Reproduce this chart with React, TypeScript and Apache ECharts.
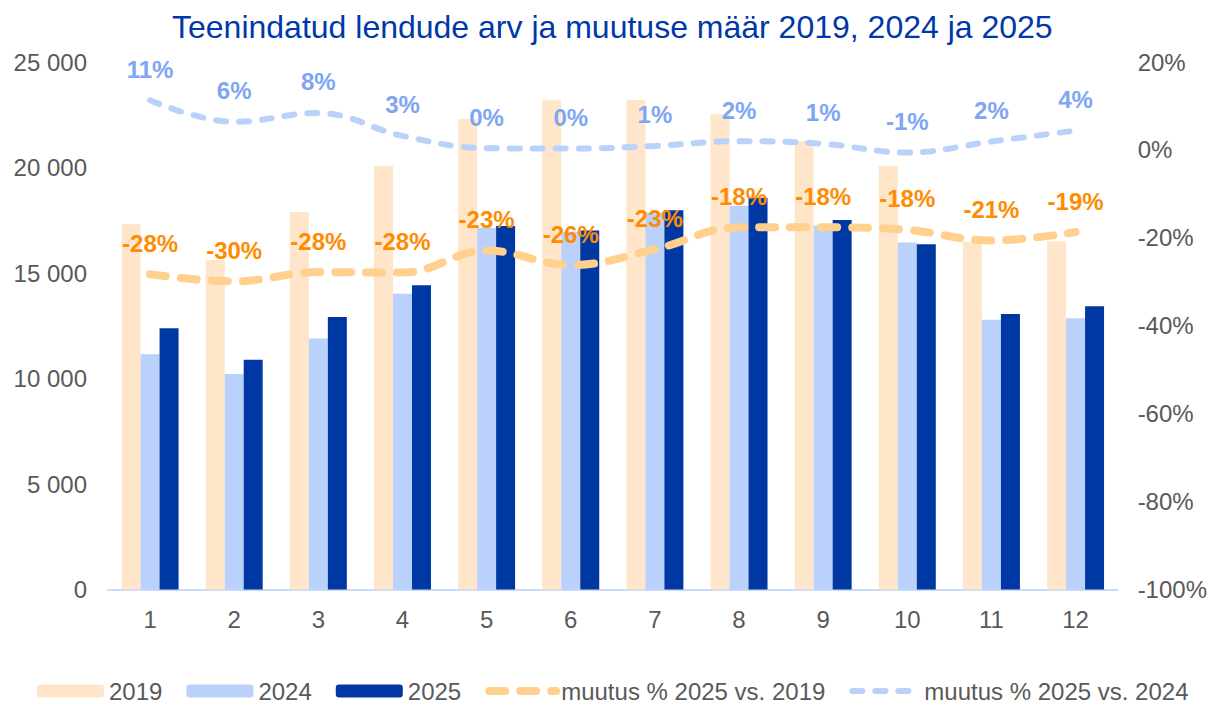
import React, { useEffect, useRef } from "react";
import * as echarts from "echarts";

const months = ["1", "2", "3", "4", "5", "6", "7", "8", "9", "10", "11", "12"];
const flights2019 = [17310, 15620, 17890, 20070, 22300, 23190, 23200, 22540, 21260, 20060, 16480, 16500];
const flights2024 = [11150, 10210, 11900, 14020, 17150, 16960, 17850, 18190, 17250, 16450, 12790, 12850];
const flights2025 = [12380, 10890, 12910, 14420, 17230, 17020, 17970, 18570, 17510, 16360, 13060, 13420];
const change2019 = [-28.3, -29.9, -27.8, -27.9, -22.9, -26.2, -22.6, -17.6, -17.6, -18.2, -20.6, -18.7];
const change2024 = [11.3, 6.4, 8.4, 3.2, 0.4, 0.3, 0.9, 2.0, 1.4, -0.6, 1.9, 4.4];

const FONT = "'Liberation Sans', Arial, sans-serif";
const AXIS_TEXT = "#595959";
const ORANGE_LINE = "#FFD08E";
const BLUE_LINE = "#BAD1F9";
const FS = 24;

export default function App() {
  const ref = useRef<HTMLDivElement>(null);

  useEffect(() => {
    if (!ref.current) return;
    const chart = echarts.init(ref.current, null, { renderer: "svg" });
    const fmtThousands = (v: number) =>
      String(v).replace(/\B(?=(\d{3})+(?!\d))/g, " ");

    chart.setOption({
      animation: false,
      textStyle: { fontFamily: FONT },
      title: {
        text: "Teenindatud lendude arv ja muutuse määr 2019, 2024 ja 2025",
        left: 167,
        top: 6,
        textStyle: {
          fontFamily: FONT,
          fontSize: 32,
          fontWeight: "normal",
          color: "#0038A8",
        },
      },
      legend: {
        left: 32,
        top: 674,
        padding: 5,
        itemWidth: 67,
        itemHeight: 13,
        itemGap: 24,
        textStyle: { fontFamily: FONT, fontSize: FS, color: AXIS_TEXT, lineHeight: 24 },
        data: [
          { name: "2019" },
          { name: "2024" },
          { name: "2025" },
          {
            name: "muutus % 2025 vs. 2019",
            lineStyle: { color: ORANGE_LINE, width: 8, type: [16, 15], cap: "round" },
            itemStyle: { color: "rgba(0,0,0,0)" },
          },
          {
            name: "muutus % 2025 vs. 2024",
            lineStyle: { color: BLUE_LINE, width: 6, type: [10, 13], cap: "round" },
            itemStyle: { color: "rgba(0,0,0,0)" },
          },
        ],
      },
      grid: { left: 108, right: 90, top: 62, bottom: 118.5, containLabel: false },
      xAxis: {
        type: "category",
        data: months,
        axisLine: { lineStyle: { color: "#C9DBF9", width: 2 } },
        axisTick: { show: false },
        axisLabel: { fontFamily: FONT, fontSize: FS, color: AXIS_TEXT, margin: 18 },
      },
      yAxis: [
        {
          type: "value",
          min: 0,
          max: 25000,
          interval: 5000,
          splitLine: { show: false },
          axisLine: { show: false },
          axisTick: { show: false },
          axisLabel: {
            fontFamily: FONT,
            fontSize: FS,
            color: AXIS_TEXT,
            margin: 21,
            formatter: (v: number) => fmtThousands(v),
          },
        },
        {
          type: "value",
          min: -100,
          max: 20,
          interval: 20,
          splitLine: { show: false },
          axisLine: { show: false },
          axisTick: { show: false },
          axisLabel: {
            fontFamily: FONT,
            fontSize: FS,
            color: AXIS_TEXT,
            margin: 20,
            formatter: (v: number) => v + "%",
          },
        },
      ],
      series: [
        {
          name: "2019",
          type: "bar",
          data: flights2019,
          barWidth: 19,
          barGap: "0%",
          itemStyle: { color: "#FFE6CA" },
        },
        {
          name: "2024",
          type: "bar",
          data: flights2024,
          barWidth: 19,
          barGap: "0%",
          itemStyle: { color: "#B9D1FB" },
        },
        {
          name: "2025",
          type: "bar",
          data: flights2025,
          barWidth: 19,
          barGap: "0%",
          itemStyle: { color: "#0038A3" },
        },
        {
          name: "muutus % 2025 vs. 2019",
          type: "line",
          yAxisIndex: 1,
          data: change2019,
          smooth: 0.4,
          symbol: "circle",
          symbolSize: 2,
          showSymbol: true,
          itemStyle: { color: "rgba(0,0,0,0)" },
          lineStyle: { color: ORANGE_LINE, width: 8, type: [16, 15], cap: "round" },
          label: {
            show: true,
            position: "top",
            distance: 18,
            fontFamily: FONT,
            fontSize: FS,
            fontWeight: "bold",
            color: "#FF8C00",
            formatter: (p: any) => Math.round(p.value) + "%",
          },
          z: 5,
        },
        {
          name: "muutus % 2025 vs. 2024",
          type: "line",
          yAxisIndex: 1,
          data: change2024,
          smooth: 0.4,
          symbol: "circle",
          symbolSize: 2,
          showSymbol: true,
          itemStyle: { color: "rgba(0,0,0,0)" },
          lineStyle: { color: BLUE_LINE, width: 6, type: [10, 13], cap: "round" },
          label: {
            show: true,
            position: "top",
            distance: 18,
            fontFamily: FONT,
            fontSize: FS,
            fontWeight: "bold",
            color: "#7EA6F4",
            formatter: (p: any) => Math.round(p.value) + "%",
          },
          z: 5,
        },
      ],
    });

    return () => chart.dispose();
  }, []);

  return (
    <div
      ref={ref}
      style={{ position: "absolute", left: 0, top: 0, width: 1210, height: 708 }}
    />
  );
}
